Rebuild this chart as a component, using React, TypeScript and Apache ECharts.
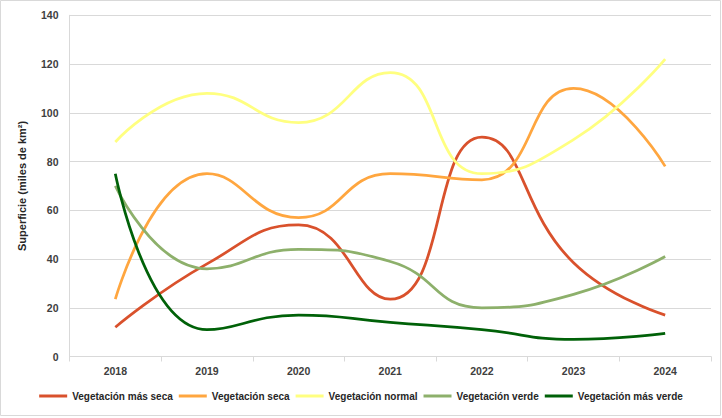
import React, { useEffect, useRef } from "react";
import * as echarts from "echarts";

const years = ["2018", "2019", "2020", "2021", "2022", "2023", "2024"];
const masSeca = [12, 38, 54, 23.5, 90, 38.5, 17];
const seca = [23.5, 75, 57, 75, 72.5, 110, 78];
const normal = [88, 108, 96, 116.5, 75, 89, 122];
const verde = [70, 36, 44, 39, 20, 25.5, 41];
const masVerde = [75, 11, 17, 14, 11, 7, 9.5];

const seriesNames = [
  "Vegetación más seca",
  "Vegetación seca",
  "Vegetación normal",
  "Vegetación verde",
  "Vegetación más verde",
];
const seriesColors = ["#D9512C", "#FFA63F", "#FFFF80", "#8DB06B", "#006108"];
const seriesData = [masSeca, seca, normal, verde, masVerde];

const FONT = "'Liberation Sans', Arial, sans-serif";

export default function App() {
  const ref = useRef<HTMLDivElement>(null);
  useEffect(() => {
    if (!ref.current) return;
    const chart = echarts.init(ref.current, undefined, { renderer: "svg" });
    chart.setOption({
      animation: false,
      backgroundColor: "#ffffff",
      graphic: [
        {
          type: "rect",
          shape: { x: 0.5, y: 0.5, width: 720, height: 415 },
          style: { fill: "none", stroke: "#d9d9d9", lineWidth: 1 },
          silent: true,
        },
      ],
      grid: { left: 69.5, right: 11, top: 15.3, bottom: 61.5, containLabel: false },
      legend: {
        left: "center",
        top: 386,
        icon: "rect",
        itemWidth: 28,
        itemHeight: 3,
        itemGap: 6,
        textStyle: { fontFamily: FONT, fontSize: 10, fontWeight: "bold", color: "#262626" },
        data: seriesNames,
      },
      xAxis: {
        type: "category",
        data: years,
        boundaryGap: true,
        axisLine: { show: true, lineStyle: { color: "#d9d9d9", width: 1 } },
        axisTick: { show: true, length: 5, lineStyle: { color: "#d9d9d9" } },
        axisLabel: { fontFamily: FONT, fontSize: 10.5, fontWeight: "bold", color: "#404040", margin: 9 },
        splitLine: { show: false },
      },
      yAxis: {
        type: "value",
        min: 0,
        max: 140,
        interval: 20,
        name: "Superficie (miles de km²)",
        nameLocation: "middle",
        nameGap: 42,
        nameTextStyle: { fontFamily: FONT, fontSize: 11, fontWeight: "bold", color: "#262626" },
        axisLine: { show: true, lineStyle: { color: "#d9d9d9", width: 1 } },
        axisTick: { show: false },
        axisLabel: { fontFamily: FONT, fontSize: 10.5, fontWeight: "bold", color: "#404040", margin: 11 },
        splitLine: { show: true, lineStyle: { color: "#d9d9d9", width: 1 } },
      },
      series: seriesNames.map((name, i) => ({
        name,
        type: "line",
        data: seriesData[i],
        smooth: 0.5,
        symbol: "none",
        lineStyle: { color: seriesColors[i], width: 2.75 },
        itemStyle: { color: seriesColors[i] },
      })),
    });
    return () => chart.dispose();
  }, []);
  return (
    <div
      ref={ref}
      style={{ position: "fixed", left: 0, top: 0, width: 722, height: 418 }}
    />
  );
}
